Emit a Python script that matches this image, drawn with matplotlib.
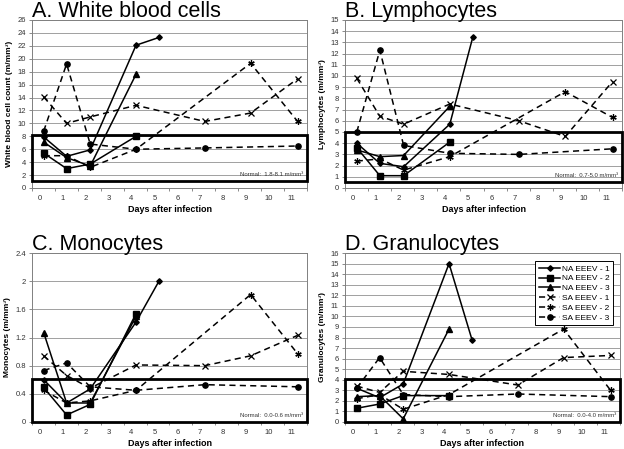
import numpy as np
import matplotlib
matplotlib.use("Agg")
import matplotlib.pyplot as plt
from matplotlib.patches import Rectangle
import matplotlib.transforms as mtransforms

plt.rcParams['font.family'] = ['Liberation Sans', 'DejaVu Sans']

## Données (jours légèrement décalés comme dans l'original)

days_na1 = [0.17, 1.17, 2.2, 4.2, 5.2]
days_na = [0.17, 1.17, 2.2, 4.2]
days_sa1 = [0.17, 1.17, 2.2, 4.2, 7.2, 9.2, 11.25]
days_sa2 = [0.17, 1.17, 2.2, 4.2, 9.2, 11.25]
days_sa3 = [0.17, 1.17, 2.2, 4.2, 7.2, 11.25]

series_names = ["NA EEEV - 1", "NA EEEV - 2", "NA EEEV - 3",
                "SA EEEV - 1", "SA EEEV - 2", "SA EEEV - 3"]

# A. White blood cells
wbc_na1 = [7.9, 4.9, 5.9, 22.1, 23.3]
wbc_na2 = [5.4, 3.0, 3.7, 8.0]
wbc_na3 = [7.1, 4.7, 3.4, 17.6]
wbc_sa1 = [14.1, 10.0, 11.0, 12.8, 10.3, 11.6, 16.9]
wbc_sa2 = [5.0, 5.0, 3.2, 6.0, 19.3, 10.3]
wbc_sa3 = [8.8, 19.2, 6.8, 6.0, 6.2, 6.5]

# B. Lymphocytes
lym_na1 = [4.0, 2.2, 1.9, 5.7, 13.5]
lym_na2 = [3.6, 1.1, 1.1, 4.1]
lym_na3 = [3.4, 2.8, 2.9, 7.3]
lym_sa1 = [9.8, 6.4, 5.7, 7.5, 6.0, 4.6, 9.5]
lym_sa2 = [2.4, 2.6, 1.6, 2.8, 8.6, 6.3]
lym_sa3 = [5.0, 12.3, 3.8, 3.1, 3.0, 3.5]

# C. Monocytes
mono_na1 = [0.6, 0.27, 0.47, 1.42, 2.0]
mono_na2 = [0.49, 0.1, 0.25, 1.54]
mono_na3 = [1.27, 0.27, 0.27, 1.5]
mono_sa1 = [0.94, 0.66, 0.48, 0.81, 0.8, 0.94, 1.23]
mono_sa2 = [0.45, 0.27, 0.3, 0.45, 1.81, 0.97]
mono_sa3 = [0.73, 0.84, 0.5, 0.45, 0.53, 0.5]

# D. Granulocytes
gran_na1 = [3.2, 2.3, 3.6, 15.0, 7.8]
gran_na2 = [1.3, 1.7, 2.5, 2.5]
gran_na3 = [2.4, 2.5, 0.3, 8.8]
gran_sa1 = [3.4, 2.8, 4.8, 4.5, 3.5, 6.1, 6.3]
gran_sa2 = [2.2, 2.6, 1.2, 2.6, 8.8, 3.0]
gran_sa3 = [3.2, 6.1, 2.6, 2.4, 2.65, 2.4]

day_labels = [str(d) for d in range(12)]

## Style des séries
styles = [
    dict(marker="D", ms=2.8, ls="-"),
    dict(marker="s", ms=3.8, ls="-"),
    dict(marker="^", ms=3.8, ls="-"),
    dict(marker="x", ms=4.2, ls="--", mew=0.9),
    dict(marker=(6, 2, 0), ms=4.6, ls="--", mew=0.9),
    dict(marker="o", ms=3.8, ls="--"),
]


def panel(ax, title, ylabel, values, ymax, ystep, box, normal_txt, ytfmt, legend=False):
    days = [days_na1, days_na, days_na, days_sa1, days_sa2, days_sa3]
    for d, v, st, name in zip(days, values, styles, series_names):
        line, = ax.plot(d, v, color="black", lw=1.1, mfc="black", mec="black",
                        label=name, **st)
        if st["ls"] == "--":
            line.set_dashes((4, 2.8))

    ax.set_xlim(-0.34, 11.66)
    ax.set_ylim(0, ymax)
    yt = np.arange(0, ymax + ystep / 2, ystep)
    ax.set_yticks(yt)
    ax.set_yticklabels([ytfmt(t) for t in yt])
    ax.set_xticks(range(12))
    ax.set_xticklabels(day_labels)
    ax.set_xticks(np.arange(-0.34, 11.7, 1), minor=True)
    ax.tick_params(axis="x", which="major", length=0, labelsize=5.5, pad=5, colors="#333333")
    ax.tick_params(axis="x", which="minor", length=2.5, width=0.6, color="#777777")
    ax.tick_params(axis="y", length=2.5, width=0.6, labelsize=5.5, pad=2,
                   color="#777777", labelcolor="#333333")
    ax.yaxis.grid(True, color="#a0a0a0", lw=0.7)
    ax.set_axisbelow(True)
    for sp in ax.spines.values():
        sp.set_color("#808080")
        sp.set_linewidth(0.7)

    # titre posé sur sa ligne de base, juste au-dessus du cadre
    ax.text(0.0, 1.0, title, transform=ax.transAxes + mtransforms.ScaledTranslation(0, 3 / 100, ax.figure.dpi_scale_trans),
            ha="left", va="baseline", fontsize=15.5)
    ax.set_ylabel(ylabel, fontsize=6, fontweight="bold", labelpad=3)
    ax.set_xlabel("Days after infection", fontsize=6.5, fontweight="bold", labelpad=2)

    # cadre de la plage normale
    trans = mtransforms.blended_transform_factory(ax.transAxes, ax.transData)
    ax.add_patch(Rectangle((0, box[0]), 1, box[1] - box[0], transform=trans,
                           fill=False, ec="black", lw=2.0, clip_on=False, zorder=5))
    ax.text(0.985, box[0] + (box[1] - box[0]) * 0.14, normal_txt, transform=trans,
            ha="right", va="center", fontsize=4.3, color="#333333")

    if legend:
        lg = ax.legend(loc="upper right", bbox_to_anchor=(0.99, 0.975), fontsize=6,
                       fancybox=False, framealpha=1, edgecolor="black",
                       handlelength=2.6, borderpad=0.4, labelspacing=0.25,
                       handletextpad=0.2)
        lg.get_frame().set_linewidth(0.7)


fig = plt.figure(figsize=(6.24, 4.49), dpi=100)
W, H = 624.0, 449.0
axA = fig.add_axes([32 / W, 261 / H, 275 / W, 168 / H])
axB = fig.add_axes([345 / W, 261 / H, 277 / W, 168 / H])
axC = fig.add_axes([32 / W, 27 / H, 275 / W, 169 / H])
axD = fig.add_axes([345 / W, 27 / H, 275 / W, 169 / H])

panel(axA, "A. White blood cells", "White blood cell count (m/mm³)",
      [wbc_na1, wbc_na2, wbc_na3, wbc_sa1, wbc_sa2, wbc_sa3],
      26, 2, (1.1, 8.2), "Normal:  1.8-8.1 m/mm³", lambda t: "%d" % t)
panel(axB, "B. Lymphocytes", "Lymphocytes (m/mm³)",
      [lym_na1, lym_na2, lym_na3, lym_sa1, lym_sa2, lym_sa3],
      15, 1, (0.5, 5.0), "Normal:  0.7-5.0 m/mm³", lambda t: "%d" % t)
panel(axC, "C. Monocytes", "Monocytes (m/mm³)",
      [mono_na1, mono_na2, mono_na3, mono_sa1, mono_sa2, mono_sa3],
      2.4, 0.4, (0.0, 0.61), "Normal:  0.0-0.6 m/mm³", lambda t: "%g" % round(t, 1))
panel(axD, "D. Granulocytes", "Granulocytes (m/mm³)",
      [gran_na1, gran_na2, gran_na3, gran_sa1, gran_sa2, gran_sa3],
      16, 1, (0.0, 4.07), "Normal:  0.0-4.0 m/mm³", lambda t: "%d" % t, legend=True)

plt.savefig("out.png", dpi=100)
